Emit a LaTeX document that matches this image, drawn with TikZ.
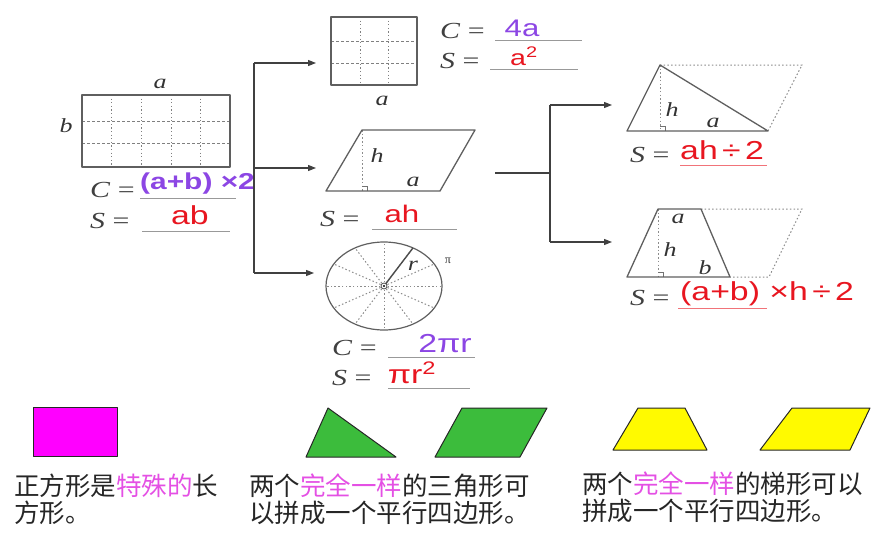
\documentclass[tikz,border=0pt]{standalone}
\usepackage{fontspec}
\setmainfont{Liberation Serif}
\newfontfamily\cjk{Noto Sans CJK SC}
\newfontfamily\serifw[FakeStretch=1.3]{Liberation Serif}
\newfontfamily\sansw[FakeStretch=1.3]{Liberation Sans}
\usetikzlibrary{arrows.meta}
\definecolor{purp}{RGB}{140,70,228}
\definecolor{redv}{RGB}{232,22,32}
\definecolor{pinkt}{RGB}{228,80,228}
\definecolor{greenf}{RGB}{60,188,60}
\definecolor{magf}{RGB}{255,0,255}
\definecolor{yellowf}{RGB}{255,250,0}
\definecolor{lineg}{RGB}{95,95,95}
\begin{document}
\begin{tikzpicture}[x=1pt,y=-1pt,
  outline/.style={draw=lineg,line width=1.3pt,line join=round},
  vgrid/.style={draw=black!50,line width=0.9pt,dash pattern=on 1.2pt off 2.4pt},
  hgrid/.style={draw=black!50,line width=0.9pt,dash pattern=on 3pt off 2pt},
  dotl/.style={draw=black!45,line width=1pt,dash pattern=on 1.5pt off 2.2pt},
  conn/.style={draw=black!75,line width=1.1pt},
  arr/.style={conn,-{Triangle[length=8pt,width=6pt]}},
  lab/.style={font=\serifw\fontsize{20}{20}\selectfont\itshape,text=black!80,inner sep=0},
  eqn/.style={font=\serifw\fontsize{23}{23}\selectfont,text=black!75,inner sep=0,anchor=west},
  pval/.style={font=\sansw\fontsize{23}{23}\selectfont,text=purp,inner sep=0},
  rval/.style={font=\sansw\fontsize{26}{26}\selectfont,text=redv,inner sep=0},
  uline/.style={draw=black!40,line width=0.9pt},
  fillshape/.style={draw=black!85,line width=1pt,line join=round},
  cjkt/.style={font=\cjk\fontsize{25.5}{25.5}\selectfont,text=black!85,inner sep=0,anchor=west},
  rmark/.style={draw=black!55,line width=0.7pt}
]
\useasboundingbox (0,0) rectangle (873,533);

% ---------- rectangle ----------
\foreach \x in {111,141,171,200} \draw[vgrid] (\x,95) -- (\x,167);
\foreach \y in {121,143} \draw[hgrid] (82,\y) -- (230,\y);
\node[outline,minimum width=148pt,minimum height=72pt,inner sep=0] (rect) at (156,131) {};
\node[lab] (ra) at (160,84) {a};
\node[lab] (rb) at (66,126) {b};
\node[eqn] (rC) at (90,190) {\textit{C} =};
\node[pval,anchor=west] (rCv) at (140,184) {\bfseries (a+b) ×2};
\draw[uline] (140,198) -- (236,198);
\node[eqn] (rS) at (90,221) {\textit{S} =};
\node[rval,anchor=center] (rSv) at (190,215) {ab};
\draw[uline] (142,231) -- (230,231);

% ---------- left connector ----------
\coordinate (lt) at (254,63);
\coordinate (lm) at (254,168);
\coordinate (lb) at (254,273);
\coordinate (e1) at (316,63);
\coordinate (e2) at (316,168);
\coordinate (e3) at (314,273);
\draw[conn] (lt) -- (lb);
\draw[arr] (lt) -- (e1);
\draw[arr] (lm) -- (e2);
\draw[arr] (lb) -- (e3);

% ---------- square ----------
\foreach \x in {360,388} \draw[vgrid] (\x,17) -- (\x,85);
\foreach \y in {41,63} \draw[hgrid] (331,\y) -- (417,\y);
\node[outline,minimum width=86pt,minimum height=68pt,inner sep=0] (sq) at (374,51) {};
\node[lab] (sqa) at (382,101) {a};
\node[eqn] (sqC) at (440,31) {\textit{C} =};
\node[pval,anchor=center,font=\sansw\fontsize{24}{24}\selectfont] (sqCv) at (522,28) {4a};
\draw[uline] (495,40) -- (582,40);
\node[eqn] (sqS) at (440,61) {\textit{S} =};
\node[rval,anchor=center,font=\sansw\fontsize{22}{22}\selectfont] (sqSv) at (524,56) {a\textsuperscript{2}};
\draw[uline] (490,69) -- (578,69);

% ---------- parallelogram ----------
\coordinate (p1) at (326,191);
\coordinate (p2) at (362,130);
\coordinate (p3) at (475,130);
\coordinate (p4) at (440,191);
\coordinate (pf) at (362,191);
\draw[dotl] (p2) -- (pf);
\draw[rmark] (362,186) -- (367,186) -- (367,191);
\draw[outline] (p1) -- (p2) -- (p3) -- (p4) -- cycle;
\node[lab] (ph) at (377,156) {h};
\node[lab] (pa) at (413,182) {a};
\node[eqn] (pS) at (320,219) {\textit{S} =};
\node[rval,anchor=center,font=\sansw\fontsize{24}{24}\selectfont] (pSv) at (402,214) {ah};
\draw[uline] (372,229) -- (457,229);

% ---------- circle ----------
\coordinate (cc) at (384,286);
\foreach \a in {0,30,...,330} \draw[dotl] (cc) -- ({384+58*cos(\a)},{286-44*sin(\a)});
\draw[outline,line width=1.2pt] (cc) ellipse [x radius=58pt,y radius=44pt];
\draw[draw=black!70,line width=1.4pt] (cc) -- ({384+58*cos(60)},{286-44*sin(60)});
\draw[draw=black!70,line width=0.8pt,fill=white] (cc) circle [radius=3pt];
\fill[black] (cc) circle [radius=1.1pt];
\node[lab] (cr) at (413,266) {r};
\node[lab,font=\fontsize{12}{12}\selectfont] (cpi) at (448,261) {π};
\node[eqn] (cC) at (332,348) {\textit{C} =};
\node[pval,anchor=center,font=\sansw\fontsize{26}{26}\selectfont] (cCv) at (445,344) {2πr};
\draw[uline] (388,357) -- (475,357);
\node[eqn] (cS) at (332,378) {\textit{S} =};
\node[rval,anchor=center] (cSv) at (412,373) {πr\textsuperscript{2}};
\draw[uline] (388,388) -- (470,388);

% ---------- right connector ----------
\coordinate (rin) at (495,173);
\coordinate (rj) at (550,173);
\coordinate (rt) at (550,105);
\coordinate (rb) at (550,242);
\coordinate (f1) at (612,105);
\coordinate (f2) at (612,242);
\draw[conn] (rin) -- (rj);
\draw[conn] (rt) -- (rb);
\draw[arr] (rt) -- (f1);
\draw[arr] (rb) -- (f2);

% ---------- triangle ----------
\coordinate (t1) at (627,131);
\coordinate (t2) at (660,65);
\coordinate (t3) at (768,131);
\coordinate (t4) at (802,65);
\coordinate (tf) at (660,131);
\draw[dotl] (t2) -- (t4) -- (t3);
\draw[dotl] (t2) -- (tf);
\draw[rmark] (660,126) -- (665,126) -- (665,131);
\draw[outline] (t1) -- (t2) -- (t3) -- cycle;
\node[lab] (th) at (672,110) {h};
\node[lab] (ta) at (713,123) {a};
\node[eqn] (tS) at (630,155) {\textit{S} =};
\node[rval,anchor=west] (tSv) at (680,150) {ah\,÷\,2};
\draw[uline,draw=redv!60] (680,165) -- (767,165);

% ---------- trapezoid ----------
\coordinate (z1) at (627,277);
\coordinate (z2) at (658,209);
\coordinate (z3) at (701,209);
\coordinate (z4) at (730,277);
\coordinate (z5) at (802,209);
\coordinate (z6) at (769,277);
\coordinate (zf) at (658,277);
\draw[dotl] (z3) -- (z5) -- (z6) -- (z4);
\draw[dotl] (z2) -- (zf);
\draw[rmark] (658,272) -- (663,272) -- (663,277);
\draw[outline] (z1) -- (z2) -- (z3) -- (z4) -- cycle;
\node[lab] (za) at (678,219) {a};
\node[lab] (zh) at (670,250) {h};
\node[lab] (zb) at (705,268) {b};
\node[eqn] (zS) at (630,298) {\textit{S} =};
\node[rval,anchor=west] (zSv) at (680,294) {(a+b) ×h\,÷\,2};
\draw[uline,draw=redv!60] (678,308) -- (767,308);

% ---------- bottom row ----------
\node[fillshape,fill=magf,minimum width=84pt,minimum height=49pt,inner sep=0] (mrect) at (75,432) {};
\coordinate (g1) at (306,457);
\coordinate (g2) at (328,408);
\coordinate (g3) at (396,457);
\draw[fillshape,fill=greenf] (g1) -- (g2) -- (g3) -- cycle;
\coordinate (h1) at (435,457);
\coordinate (h2) at (462,408);
\coordinate (h3) at (547,408);
\coordinate (h4) at (520,457);
\draw[fillshape,fill=greenf] (h1) -- (h2) -- (h3) -- (h4) -- cycle;
\coordinate (y1) at (613,450);
\coordinate (y2) at (638,408);
\coordinate (y3) at (685,408);
\coordinate (y4) at (707,450);
\draw[fillshape,fill=yellowf] (y1) -- (y2) -- (y3) -- (y4) -- cycle;
\coordinate (k1) at (760,450);
\coordinate (k2) at (792,408);
\coordinate (k3) at (870,408);
\coordinate (k4) at (850,450);
\draw[fillshape,fill=yellowf] (k1) -- (k2) -- (k3) -- (k4) -- cycle;

\node[cjkt] (tx1a) at (14,486) {正方形是\textcolor{pinkt}{特殊的}长};
\node[cjkt] (tx1b) at (14,513) {方形。};
\node[cjkt] (tx2a) at (249,486) {两个\textcolor{pinkt}{完全一样}的三角形可};
\node[cjkt] (tx2b) at (249,513) {以拼成一个平行四边形。};
\node[cjkt] (tx3a) at (582,484) {两个\textcolor{pinkt}{完全一样}的梯形可以};
\node[cjkt] (tx3b) at (582,511) {拼成一个平行四边形。};
\end{tikzpicture}
\end{document}
